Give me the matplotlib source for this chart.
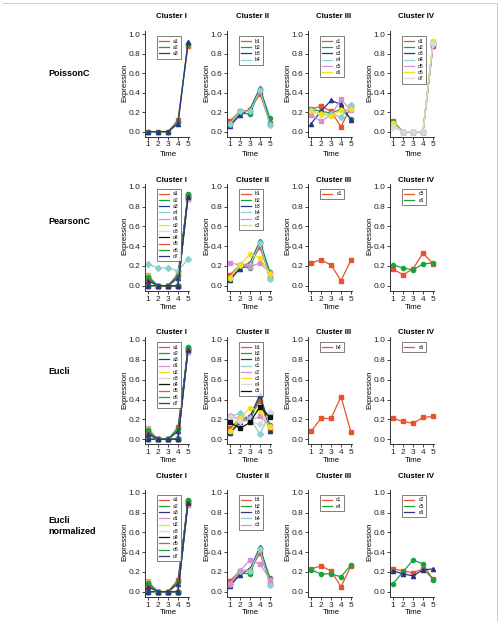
import matplotlib
matplotlib.use("Agg")
import matplotlib.pyplot as plt
from matplotlib.lines import Line2D

plt.rcParams["font.family"] = ["Liberation Sans", "DejaVu Sans"]

# time points
time = [1, 2, 3, 4, 5]

# expression profiles
a1 = [0.00, 0.00, 0.00, 0.12, 0.88]
a2 = [0.00, 0.00, 0.00, 0.10, 0.90]
a3 = [0.00, 0.00, 0.00, 0.08, 0.92]
b1 = [0.11, 0.21, 0.22, 0.39, 0.09]
b2 = [0.07, 0.19, 0.18, 0.44, 0.14]
b3 = [0.06, 0.17, 0.23, 0.45, 0.08]
b4 = [0.08, 0.21, 0.21, 0.43, 0.07]
c1 = [0.23, 0.26, 0.21, 0.05, 0.26]
c2 = [0.23, 0.21, 0.19, 0.23, 0.13]
c3 = [0.08, 0.21, 0.32, 0.28, 0.12]
c4 = [0.22, 0.18, 0.18, 0.15, 0.27]
c5 = [0.17, 0.11, 0.17, 0.33, 0.22]
c6 = [0.21, 0.18, 0.16, 0.22, 0.23]
d1 = [0.11, 0.00, 0.00, 0.00, 0.88]
d2 = [0.10, 0.00, 0.00, 0.00, 0.89]
d3 = [0.08, 0.00, 0.00, 0.00, 0.90]
d4 = [0.07, 0.00, 0.00, 0.00, 0.91]
d5 = [0.06, 0.00, 0.00, 0.00, 0.92]
d6 = [0.09, 0.00, 0.00, 0.00, 0.93]
d7 = [0.05, 0.00, 0.00, 0.00, 0.90]
# line labelled c5 in the normalized Euclidean Cluster IV panel
c5_norm = [0.08, 0.20, 0.32, 0.28, 0.12]

profiles = dict(a1=a1, a2=a2, a3=a3, b1=b1, b2=b2, b3=b3, b4=b4,
                c1=c1, c2=c2, c3=c3, c4=c4, c5=c5, c6=c6,
                d1=d1, d2=d2, d3=d3, d4=d4, d5=d5, d6=d6, d7=d7)

methods = ["PoissonC", "PearsonC", "Eucli", "Eucli\nnormalized"]
cluster_names = ["Cluster I", "Cluster II", "Cluster III", "Cluster IV"]

poisson_clusters = [["a1", "a2", "a3"],
                    ["b1", "b2", "b3", "b4"],
                    ["c1", "c2", "c3", "c4", "c5", "c6"],
                    ["d1", "d2", "d3", "d4", "d5", "d6", "d7"]]
pearson_clusters = [["a1", "a2", "a3", "c4", "d1", "d2", "d3", "d4", "d5", "d6", "d7"],
                    ["b1", "b2", "b3", "b4", "c2", "c3"],
                    ["c1"],
                    ["c5", "c6"]]
eucli_clusters = [["a1", "a2", "a3", "d1", "d2", "d3", "d4", "d5", "d6", "d7"],
                  ["b1", "b2", "b3", "c1", "c2", "c3", "c4", "c5"],
                  ["b4"],
                  ["c6"]]
eucli_norm_clusters = [["a1", "a2", "a3", "d1", "d2", "d3", "d4", "d5", "d6", "d7"],
                       ["b1", "b2", "b3", "b4", "c3"],
                       ["c1", "c4"],
                       ["c2", "c5", "c6"]]
all_clusters = [poisson_clusters, pearson_clusters, eucli_clusters, eucli_norm_clusters]

# styling
palette = ["#E8532B", "#1BA33B", "#2B3587", "#87D3CE", "#D690D0", "#F4DF1C", "#D8D8DE", "#111111"]
markers = ["s", "o", "^", "D", "s", "o", "D", "s"]
skip_cyan = {(2, 0), (3, 0)}

W, H = 500, 622
fig = plt.figure(figsize=(W / 100, H / 100), dpi=100)
fig.patch.set_facecolor("white")

tick1_x = [148, 230, 311, 393]
zero_y = [131.7, 285.7, 439.3, 591.7]
one_y = [34, 186.7, 340, 492.7]
title_y = [16, 180, 333, 477]
time_y = [154, 308, 461, 613]
label_y = [73, 222, 372, 526]
XPU = 10.0  # px per time unit
X0, X1 = 0.7, 5.3
Y0, Y1 = -0.05, 1.03

for r in range(4):
    u = zero_y[r] - one_y[r]
    top = one_y[r] - (Y1 - 1.0) * u
    bot = zero_y[r] - Y0 * u
    fig.text(48 / W, 1 - label_y[r] / H, methods[r], fontsize=6.5, fontweight="bold",
             ha="left", va="center", linespacing=1.3)
    for c in range(4):
        left = tick1_x[c] - (1 - X0) * XPU
        width = (X1 - X0) * XPU
        ax = fig.add_axes([left / W, 1 - bot / H, width / W, (bot - top) / H])
        names = all_clusters[r][c]
        idx = [0, 1, 2, 4, 5, 6, 7] if (r, c) in skip_cyan else list(range(8))
        for k, name in enumerate(names):
            p = idx[k % len(idx)]
            vals = c5_norm if (r, c, name) == (3, 3, "c5") else profiles[name]
            ax.plot(time, vals, color=palette[p], lw=0.9,
                    marker=markers[p], ms=3.0, mec=palette[p], label=name,
                    clip_on=False, zorder=2 + k * 0.01)
        ax.set_xlim(X0, X1)
        ax.set_ylim(Y0, Y1)
        ax.set_xticks(time)
        ax.set_yticks([0.0, 0.2, 0.4, 0.6, 0.8, 1.0])
        ax.set_yticklabels(["0.0", "0.2", "0.4", "0.6", "0.8", "1.0"])
        ax.tick_params(labelsize=6, length=2.5, width=0.6, pad=1, colors="#222222")
        for s in ["top", "right"]:
            ax.spines[s].set_visible(False)
        for s in ["left", "bottom"]:
            ax.spines[s].set_linewidth(0.7)
            ax.spines[s].set_color("#333333")
        ax.spines["bottom"].set_bounds(X0, 5.05)
        ax.patch.set_alpha(0)
        fig.text((tick1_x[c] - 23) / W, 1 - (zero_y[r] + one_y[r]) / 2 / H, "Expression",
                 fontsize=5.6, rotation=90, ha="center", va="center")
        handles = [Line2D([0], [0], color=palette[idx[k % len(idx)]], lw=0.9)
                   for k in range(len(names))]
        leg = ax.legend(handles, names, loc="upper center", bbox_to_anchor=(0.52, 0.975),
                        fontsize=3.6, handlelength=2.0, handletextpad=0.8,
                        labelspacing=0.25, borderpad=0.5, fancybox=False, frameon=True)
        leg.get_frame().set_edgecolor("#444444")
        leg.get_frame().set_linewidth(0.6)
        cx = left + width / 2 + 3
        fig.text(cx / W, 1 - title_y[r] / H, cluster_names[c], fontsize=5.6,
                 fontweight="bold", ha="center", va="center")
        fig.text((tick1_x[c] + 2 * XPU) / W, 1 - time_y[r] / H, "Time", fontsize=5.6,
                 ha="center", va="center")

# thin frame at top and right of the figure
fig.add_artist(Line2D([0.006, 0.994], [1 - 3 / H, 1 - 3 / H], color="#cccccc", lw=0.7))
fig.add_artist(Line2D([0.994, 0.994], [0.0, 1 - 3 / H], color="#cccccc", lw=0.7))

fig.savefig("out.png", dpi=100)
